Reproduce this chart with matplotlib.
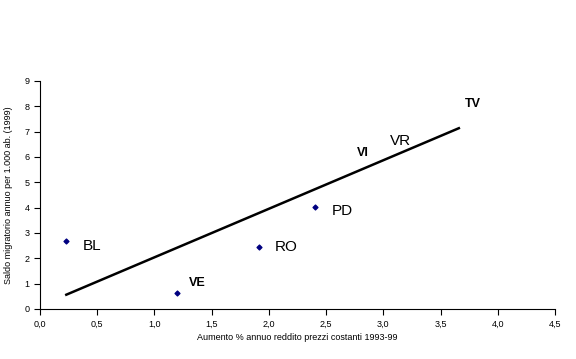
import numpy as np
import matplotlib
matplotlib.use('Agg')
import matplotlib.pyplot as plt
from matplotlib.ticker import FuncFormatter

plt.rcParams['font.family'] = ['Liberation Sans', 'DejaVu Sans']

# province data: income growth vs net migration
provinces = ['BL', 'VE', 'RO', 'PD', 'VI', 'VR', 'TV']
income_growth = [0.23, 1.20, 1.91, 2.40, 2.65, 3.00, 3.66]
migration = [2.69, 0.63, 2.45, 4.03, 5.50, 5.90, 8.50]
bold_labels = ['VE', 'VI', 'TV']
hidden_markers = ['VI', 'VR', 'TV']

fig = plt.figure(figsize=(5.76, 3.59), dpi=100)
ax = fig.add_axes([0.0694, 0.1393, 0.8941, 0.6351])

x = np.array(income_growth)
y = np.array(migration)

# trend line over the data range
slope, intercept = np.polyfit(x, y, 1)
xs = np.array([x.min(), x.max()])
ax.plot(xs, slope * xs + intercept, color='black', lw=1.8, zorder=2)

vis = np.array([p not in hidden_markers for p in provinces])
ax.scatter(x[vis], y[vis], marker='D', s=6, color='#000080', zorder=3)

label_offsets = {'BL': (12, -4), 'VE': (8, 3), 'RO': (12, 0), 'PD': (12, -3),
                 'VI': (10, 8), 'VR': (5, 13), 'TV': (4, -12)}
for p, xi, yi in zip(provinces, x, y):
    if p in bold_labels:
        ax.annotate(p, (xi, yi), xytext=label_offsets[p], textcoords='offset points',
                    fontsize=9, fontweight='bold', va='bottom', ha='left')
    else:
        ax.annotate(p, (xi, yi), xytext=label_offsets[p], textcoords='offset points',
                    fontsize=11, va='center', ha='left')

ax.set_xlim(0, 4.5)
ax.set_ylim(0, 9)
ax.set_xticks(np.arange(0, 4.51, 0.5))
ax.set_yticks(range(0, 10))
ax.xaxis.set_major_formatter(FuncFormatter(lambda v, _: f'{v:.1f}'.replace('.', ',')))
ax.tick_params(labelsize=6.5, length=4, width=0.8, direction='out')
for s in ['top', 'right']:
    ax.spines[s].set_visible(False)
ax.set_xlabel('Aumento % annuo reddito prezzi costanti 1993-99', fontsize=6.5, labelpad=3)
ax.set_ylabel('Saldo migratorio annuo per 1.000 ab. (1999)', fontsize=6.5, labelpad=8)

fig.savefig('out.png', dpi=100)
